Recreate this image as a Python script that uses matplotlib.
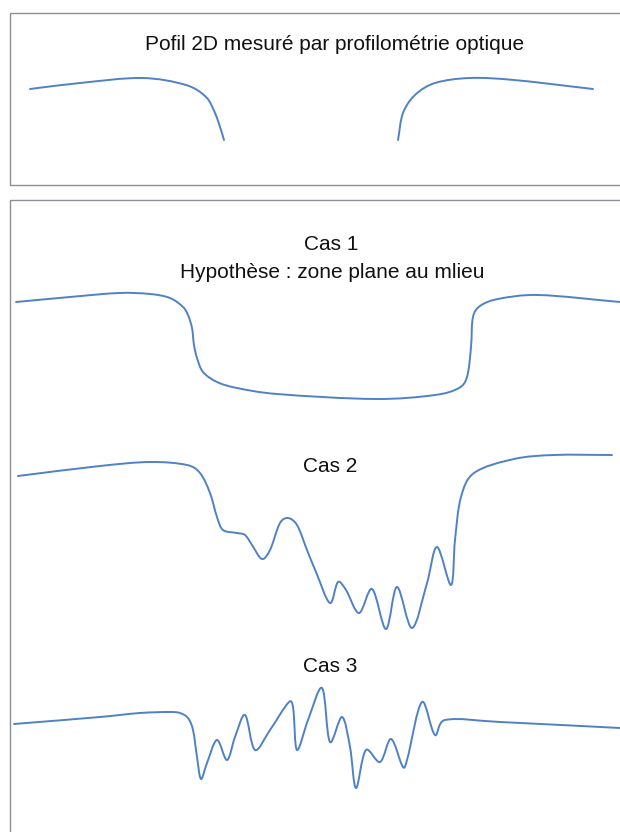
"""
Profil 2D mesure par profilometrie optique + trois hypotheses (Cas 1, 2, 3).
Saves: out.png
"""
import matplotlib
matplotlib.use("Agg")
import matplotlib.pyplot as plt
import numpy as np
from matplotlib.path import Path
from matplotlib.patches import PathPatch, Rectangle

# -----------------------------------------------------------------------
# Data (x position, z = vertical position)
# -----------------------------------------------------------------------
mesure_g_x = [30, 80, 142, 186, 206, 215, 221, 224]
mesure_g_z = [89, 83, 78, 85, 97, 113, 130, 140]
mesure_d_x = [398, 403, 415, 435, 470, 514, 593]
mesure_d_z = [140, 113, 95, 83, 78, 80, 89]

cas1_x = [16, 70, 119, 150, 170, 183, 188, 192, 194, 197, 203, 217, 237,
          277, 376, 435, 459, 467, 471, 473, 480, 498, 538, 620]
cas1_z = [302, 297, 293, 294, 298, 307, 315, 328, 345, 358, 372, 382, 388,
          394, 399, 395, 388, 377, 347, 317, 306, 299, 295, 302]

cas2_x = [18, 100, 150, 187, 200, 210, 217, 223, 237, 245, 252, 262, 270,
          280, 288, 297, 307, 316, 330, 338, 346, 359, 372, 386, 397, 412,
          427, 437, 451, 455, 461, 474, 514, 554, 612]
cas2_z = [476, 466, 462, 465, 473, 493, 517, 530, 533, 535, 545, 559, 550,
          523, 518, 525, 550, 572, 603, 582, 590, 613, 589, 629, 587, 628,
          583, 547, 585, 540, 497, 473, 459, 455, 455]

cas3_x = [14, 100, 140, 170, 180, 188, 193, 197, 201, 207, 217, 227, 235,
          245, 255, 270, 289, 293, 297, 308, 322, 330, 342, 350, 356, 366,
          380, 391, 403, 407, 422, 435, 445, 500, 620]
cas3_z = [724, 717, 713, 712, 713, 718, 730, 757, 779, 763, 740, 760, 737,
          715, 750, 730, 702, 707, 750, 720, 688, 742, 717, 747, 788, 750,
          762, 739, 767, 760, 702, 735, 720, 722, 728]

titres = ["Pofil 2D mesuré par profilométrie optique", "Cas 1",
          "Hypothèse : zone plane au mlieu", "Cas 2", "Cas 3"]

BLUE = "#4f81c7"
GREY = "#8e8e96"


def smooth_path(xs, zs, alpha=0.5):
    # smoothed line (like a spreadsheet "smooth line"): cubic Bezier
    # segments, centripetal parametrisation
    p = np.column_stack([xs, zs]).astype(float)
    d = np.hypot(*np.diff(p, axis=0).T) ** alpha
    t = np.concatenate([[0], np.cumsum(d)])
    n = len(p)
    m = np.zeros_like(p)
    for i in range(n):
        a, b = max(i - 1, 0), min(i + 1, n - 1)
        m[i] = (p[b] - p[a]) / (t[b] - t[a])
    verts = [p[0]]
    codes = [Path.MOVETO]
    for i in range(n - 1):
        h = t[i + 1] - t[i]
        verts += [p[i] + m[i] * h / 3, p[i + 1] - m[i + 1] * h / 3, p[i + 1]]
        codes += [Path.CURVE4] * 3
    return Path(verts, codes)


fig = plt.figure(figsize=(6.2, 8.32), dpi=100)
ax = fig.add_axes([0, 0, 1, 1])
ax.set_xlim(0, 620)
ax.set_ylim(832, 0)
ax.axis("off")

# frames
ax.add_patch(Rectangle((10, 13), 640, 172, fill=False, ec=GREY, lw=1.0))
ax.add_patch(Rectangle((9.5, 200), 640, 700, fill=False, ec=GREY, lw=1.0))

for xs, zs in [(mesure_g_x, mesure_g_z), (mesure_d_x, mesure_d_z),
               (cas1_x, cas1_z), (cas2_x, cas2_z), (cas3_x, cas3_z)]:
    ax.add_patch(PathPatch(smooth_path(xs, zs), fill=False, ec=BLUE,
                           lw=1.4, capstyle="round"))

font = dict(family=["Liberation Sans", "DejaVu Sans"], fontsize=15,
            color="#111111", ha="center", va="center")
ax.text(335, 44, titres[0], **font)
ax.text(331, 244, titres[1], **font)
ax.text(332, 272, titres[2], **font)
ax.text(330, 466, titres[3], **font)
ax.text(330, 666, titres[4], **font)

fig.savefig("out.png", dpi=100)
plt.close(fig)
